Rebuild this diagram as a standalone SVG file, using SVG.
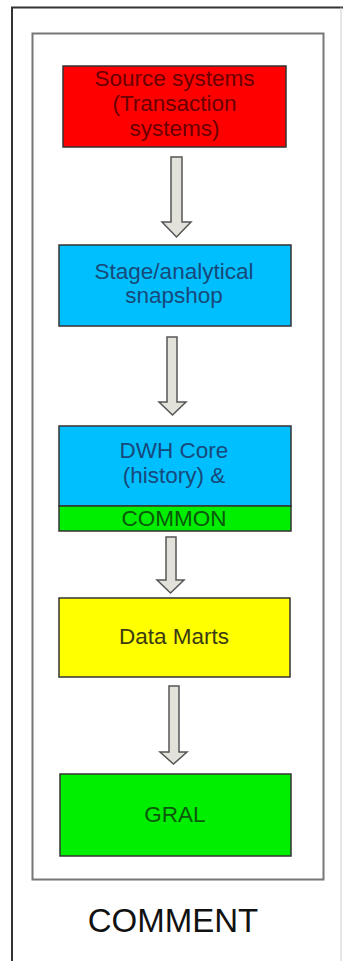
<svg xmlns="http://www.w3.org/2000/svg" width="343" height="961" viewBox="0 0 343 961">
<style>
.box{stroke:#333;stroke-width:1.5}
.arr{fill:#e2e2da;stroke:#555;stroke-width:1.5;stroke-linejoin:miter}
text{font-family:"Liberation Sans",Arial,sans-serif;font-size:22.5px;text-anchor:middle}
</style>
<rect width="343" height="961" fill="#fff"/>
<g id="frame">
<path d="M12,970 V7.5 H343" fill="none" stroke="#333" stroke-width="2"/>
<line x1="341" y1="7.5" x2="341" y2="970" stroke="#ccc" stroke-width="1"/>
<rect x="32.5" y="33.5" width="291" height="846" fill="none" stroke="#777" stroke-width="2"/>
</g>
<g id="connectors">
<path class="arr" d="M171,157 H182 V222 H191 L176.5,237 L162,222 H171 Z"/>
<path class="arr" d="M167,337 H177 V402 H186 L172.5,415 L159,402 H167 Z"/>
<path class="arr" d="M166,537 H176 V580 H184 L170.5,593 L157,580 H166 Z"/>
<path class="arr" d="M169,686 H179 V752 H187 L173.5,764 L160,752 H169 Z"/>
</g>
<g id="source">
<rect class="box" x="63" y="66" width="223" height="81" fill="#ff0000"/>
<text x="174.5" y="86" fill="#6a0000">Source systems</text>
<text x="174.5" y="111" fill="#6a0000">(Transaction</text>
<text x="174.5" y="136" fill="#6a0000">systems)</text>
</g>
<g id="stage">
<rect class="box" x="59" y="245" width="232" height="81" fill="#00bfff"/>
<text x="174" y="279" fill="#17497a">Stage/analytical</text>
<text x="174" y="303" fill="#17497a">snapshop</text>
</g>
<g id="core">
<rect class="box" x="59" y="426" width="232" height="80" fill="#00bfff"/>
<rect class="box" x="59" y="506" width="232" height="25" fill="#00ee00"/>
<text x="174" y="458" fill="#17497a">DWH Core</text>
<text x="174" y="483" fill="#17497a">(history) &amp;</text>
<text x="174" y="526" fill="#0a5a0a">COMMON</text>
</g>
<g id="marts">
<rect class="box" x="59" y="598" width="231" height="79" fill="#ffff00"/>
<text x="174" y="644" fill="#3a3a14">Data Marts</text>
</g>
<g id="gral">
<rect class="box" x="60" y="774" width="231" height="82" fill="#00ee00"/>
<text x="175" y="822" fill="#0a5a0a">GRAL</text>
</g>
<g id="comment">
<text x="173" y="932" fill="#111" style="font-size:33px">COMMENT</text>
</g>
</svg>
